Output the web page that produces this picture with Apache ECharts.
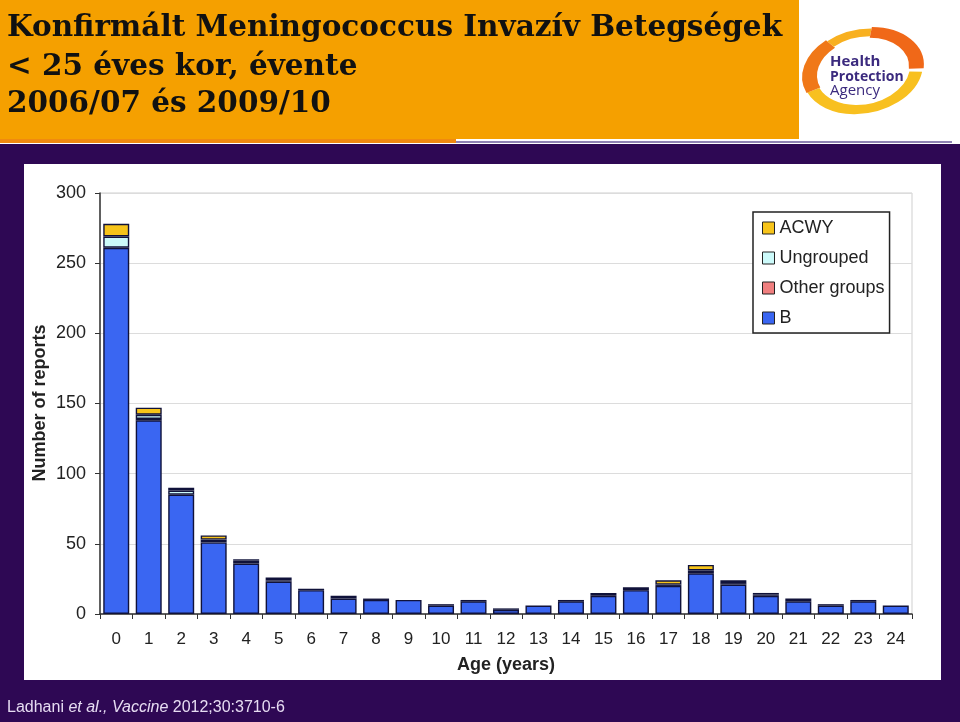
<!DOCTYPE html>
<html>
<head>
<meta charset="utf-8">
<script src="https://cdn.jsdelivr.net/npm/echarts@6/dist/echarts.min.js"></script>
<style>
html,body{margin:0;padding:0;background:#2E0854;}
#chart{width:960px;height:722px;}
</style>
</head>
<body>
<div id="chart"></div>
<script>
// ---- data ----
var ages = ['0','1','2','3','4','5','6','7','8','9','10','11','12','13','14','15','16','17','18','19','20','21','22','23','24'];
var seriesNames = ['B', 'Other groups', 'Ungrouped', 'ACWY'];
var valuesB         = [261,138,85,51,36,23,17,11,10,10,6,9,3,6,9,13,17,20,29,21,13,9,6,9,6];
var valuesOther     = [0,1,0,1,0,1,1,2,1,0,1,1,1,0,1,2,2,1,0,1,0,2,1,1,0];
var valuesUngrouped = [8,3,3,1,2,2,0,0,0,0,0,0,0,0,0,0,0,0,2,0,1,0,0,0,0];
var valuesACWY      = [9,5,2,3,1,0,0,0,0,0,0,0,0,0,0,0,0,3,4,2,1,0,0,0,0];
var yTicks = [0,50,100,150,200,250,300];
var titleLines = ['Konfirmált Meningococcus Invazív Betegségek', '< 25 éves kor, évente', '2006/07 és 2009/10'];

var colors = {'B':'#3A66F2','Other groups':'#F07F7F','Ungrouped':'#CCFAFA','ACWY':'#F7C41A'};
var seriesData = [valuesB, valuesOther, valuesUngrouped, valuesACWY];

var chart = echarts.init(document.getElementById('chart'));

var series = seriesNames.map(function(n, i){
  return {
    name: n, type: 'bar', stack: 'total',
    barCategoryGap: '20%',
    data: seriesData[i].map(function(v){ return v === 0 ? null : v; }),
    itemStyle: { color: colors[n], borderColor: '#10123a', borderWidth: 1.4 },
    emphasis: { disabled: true }
  };
});

var font = '"Liberation Sans", Arial, sans-serif';
var titleFont = 'bold 29.5px "DejaVu Serif", serif';

var graphic = [
  // header
  { type:'rect', shape:{x:0,y:0,width:960,height:144}, style:{fill:'#ffffff'}, z:-20, silent:true },
  { type:'rect', shape:{x:0,y:0,width:799,height:139}, style:{fill:'#F5A000'}, z:-19, silent:true },
  { type:'rect', shape:{x:0,y:139,width:456,height:4}, style:{fill:'#F08a10'}, z:-19, silent:true },
  { type:'line', shape:{x1:456,y1:142,x2:952,y2:142}, style:{stroke:'#6a5a9a',lineWidth:1.5}, z:-18, silent:true },
  { type:'rect', shape:{x:0,y:144,width:960,height:578}, style:{fill:'#2E0854'}, z:-20, silent:true },
  // white chart panel
  { type:'rect', shape:{x:24,y:164,width:917,height:516}, style:{fill:'#ffffff'}, z:-15, silent:true },
  // titles
  { type:'text', x:7, y:28, style:{ text:titleLines[0], font:titleFont, fill:'#111', textVerticalAlign:'middle' }, silent:true },
  { type:'text', x:7, y:67, style:{ text:titleLines[1], font:titleFont, fill:'#111', textVerticalAlign:'middle' }, silent:true },
  { type:'text', x:7, y:104, style:{ text:titleLines[2], font:titleFont, fill:'#111', textVerticalAlign:'middle' }, silent:true },
  // logo
  { type:'group', x:863, y:71, rotation:0.2, scaleY:0.7, silent:true, children:[
      { type:'arc', shape:{cx:0,cy:0,r:54,startAngle:0.3,endAngle:2.9}, style:{stroke:'#F8C020',lineWidth:13,fill:null} },
      { type:'arc', shape:{cx:0,cy:0,r:54,startAngle:2.9,endAngle:4.2}, style:{stroke:'#F07818',lineWidth:15,fill:null} },
      { type:'arc', shape:{cx:0,cy:0,r:54,startAngle:4.2,endAngle:5.0}, style:{stroke:'#F8B020',lineWidth:11,fill:null} },
      { type:'arc', shape:{cx:0,cy:0,r:54,startAngle:5.0,endAngle:6.5}, style:{stroke:'#F06818',lineWidth:15,fill:null} }
  ]},
  { type:'text', x:830, y:62, style:{ text:'Health', font:'bold 15px "Open Sans", sans-serif', fill:'#3b2a7e', textVerticalAlign:'middle' }, silent:true },
  { type:'text', x:830, y:77, style:{ text:'Protection', font:'bold 14px "Open Sans", sans-serif', fill:'#3b2a7e', textVerticalAlign:'middle' }, silent:true },
  { type:'text', x:830, y:91, style:{ text:'Agency', font:'15px "Open Sans", sans-serif', fill:'#3b2a7e', textVerticalAlign:'middle' }, silent:true },
  // axis titles
  { type:'text', x:40, y:403, rotation:Math.PI/2, style:{ text:'Number of reports', font:'bold 18px ' + font, fill:'#222', textAlign:'center', textVerticalAlign:'middle' }, silent:true },
  { type:'text', x:506, y:665, style:{ text:'Age (years)', font:'bold 18px ' + font, fill:'#222', textAlign:'center', textVerticalAlign:'middle' }, silent:true },
  // citation
  { type:'text', x:7, y:708, style:{
      text:'{n|Ladhani }{i|et al.,}{n| }{i|Vaccine}{n| 2012;30:3710-6}',
      textVerticalAlign:'middle',
      rich:{ n:{ fontSize:16, fontFamily:font, fill:'#e6dcf2', color:'#e6dcf2' },
             i:{ fontSize:16, fontFamily:font, fontStyle:'italic', fill:'#e6dcf2', color:'#e6dcf2' } }
    }, silent:true }
];

chart.setOption({
  backgroundColor: '#2E0854',
  animation: false,
  color: seriesNames.map(function(n){return colors[n];}),
  grid: { left: 100, right: 48, top: 193, bottom: 108, show: true, borderColor: '#cfcfcf', borderWidth: 1, backgroundColor: 'transparent' },
  legend: {
    data: ['ACWY','Ungrouped','Other groups','B'],
    orient: 'vertical', left: 753, top: 212,
    padding: [7, 5, 6, 9],
    itemGap: 12, itemWidth: 12, itemHeight: 12,
    icon: 'rect',
    backgroundColor: '#fff',
    borderColor: '#222', borderWidth: 1.5,
    textStyle: { fontSize: 18, fontFamily: font, color: '#222' },
    itemStyle: { borderColor: '#222', borderWidth: 1 }
  },
  xAxis: {
    type: 'category', data: ages,
    axisLine: { lineStyle: { color: '#333', width: 1.5 } },
    axisTick: { show: true, alignWithLabel: false, length: 5, lineStyle: { color: '#333' } },
    axisLabel: { fontSize: 17, fontFamily: font, color: '#222', margin: 17 }
  },
  yAxis: {
    type: 'value', min: yTicks[0], max: yTicks[yTicks.length-1], interval: yTicks[1]-yTicks[0],
    axisLine: { show: true, lineStyle: { color: '#333', width: 1.5 } },
    axisTick: { show: true, length: 5, lineStyle: { color: '#333' } },
    axisLabel: { fontSize: 18, fontFamily: font, color: '#222', margin: 14 },
    splitLine: { lineStyle: { color: '#dcdcdc' } }
  },
  graphic: graphic,
  series: series
});
</script>
</body>
</html>
